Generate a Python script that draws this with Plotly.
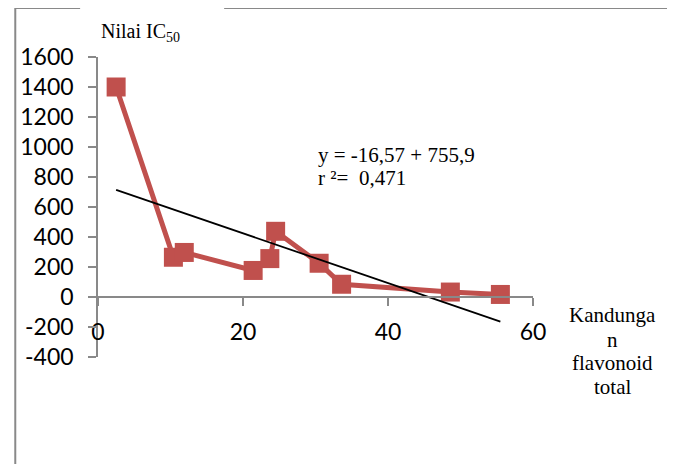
import plotly.graph_objects as go

# Data
flavonoid = [2.5, 10.4, 11.9, 21.4, 23.7, 24.5, 30.5, 33.6, 48.6, 55.5]
ic50 = [1400, 265, 297, 177, 256, 438, 225, 85, 33, 17]
trend_slope = -16.57
trend_intercept = 755.9
x_ticks = [0, 20, 40, 60]
y_ticks = [-400, -200, 0, 200, 400, 600, 800, 1000, 1200, 1400, 1600]

W, H = 675, 464
OFF = 8  # page body margin offset
# desired screen positions of the plot area
SL, SR, ST, SB = 95, 533, 57, 357
L = SL - OFF
T = ST - OFF
R = W - (SR - OFF)
B = H - (SB - OFF)
pw = SR - SL
ph = SB - ST


def px_x(p):
    return (p - SL) / pw


def px_y(p):
    return (SB - p) / ph


red = "#C0504D"
grey = "#898989"
tick_font = dict(family="Lato, Carlito, sans-serif", size=23, color="black")
serif = "Liberation Serif, Times New Roman, serif"

trend_x = [min(flavonoid), max(flavonoid)]
trend_y = [trend_intercept + trend_slope * v for v in trend_x]

fig = go.Figure()
fig.add_trace(go.Scatter(
    x=flavonoid, y=ic50, mode="lines+markers",
    line=dict(color=red, width=5),
    marker=dict(symbol="square", size=19, color=red, line=dict(width=0)),
    showlegend=False, cliponaxis=False,
))
fig.add_trace(go.Scatter(
    x=trend_x, y=trend_y, mode="lines",
    line=dict(color="black", width=1.8),
    showlegend=False, cliponaxis=False,
))

x_title_lines = ["Kandunga", "n", "flavonoid", "total"]
x_title_y = [315, 340, 363, 387]

annotations = [
    dict(text="Nilai IC<sub>50</sub>", xref="paper", yref="paper",
         x=px_x(96), y=px_y(32), xanchor="left", yanchor="middle",
         showarrow=False, font=dict(family=serif, size=20, color="black")),
    dict(text="y = -16,57 + 755,9", xref="paper", yref="paper",
         x=px_x(314), y=px_y(155), xanchor="left", yanchor="middle",
         showarrow=False, font=dict(family=serif, size=21, color="black")),
    dict(text="r \u00b2=\u00a0\u00a00,471", xref="paper", yref="paper",
         x=px_x(314), y=px_y(178), xanchor="left", yanchor="middle",
         showarrow=False, font=dict(family=serif, size=21, color="black")),
]
for line_text, ly in zip(x_title_lines, x_title_y):
    annotations.append(dict(
        text=line_text, xref="paper", yref="paper",
        x=px_x(613), y=px_y(ly), xanchor="center", yanchor="middle",
        showarrow=False, font=dict(family=serif, size=21, color="black")))

fig.update_layout(
    width=W, height=H,
    margin=dict(l=L, r=R, t=T, b=B, pad=0),
    paper_bgcolor="white", plot_bgcolor="white",
    xaxis=dict(
        range=[0, 60], tickvals=x_ticks, ticktext=[str(v) for v in x_ticks],
        showgrid=False, zeroline=False, showline=True, linecolor=grey, linewidth=1.5,
        ticks="outside", ticklen=8, tickcolor=grey, tickwidth=1.5,
        tickfont=tick_font, anchor="free", position=px_y(297),
        ticklabelstandoff=7,
    ),
    yaxis=dict(
        range=[-400, 1600], tickvals=y_ticks, ticktext=[str(v) for v in y_ticks],
        showgrid=False, zeroline=False, showline=True, linecolor=grey, linewidth=1.5,
        ticks="outside", ticklen=8, tickcolor=grey, tickwidth=1.5,
        tickfont=tick_font, ticklabelstandoff=10,
    ),
    shapes=[
        dict(type="line", xref="paper", yref="paper", x0=px_x(11.7), x1=px_x(11.7),
             y0=px_y(OFF), y1=px_y(480), line=dict(color=grey, width=2)),
        dict(type="line", xref="paper", yref="paper", x0=px_x(11.7), x1=px_x(77),
             y0=px_y(OFF), y1=px_y(OFF), line=dict(color=grey, width=2)),
        dict(type="line", xref="paper", yref="paper", x0=px_x(222), x1=px_x(700),
             y0=px_y(OFF), y1=px_y(OFF), line=dict(color=grey, width=2)),
    ],
    annotations=annotations,
)

fig.write_html("out.html")
